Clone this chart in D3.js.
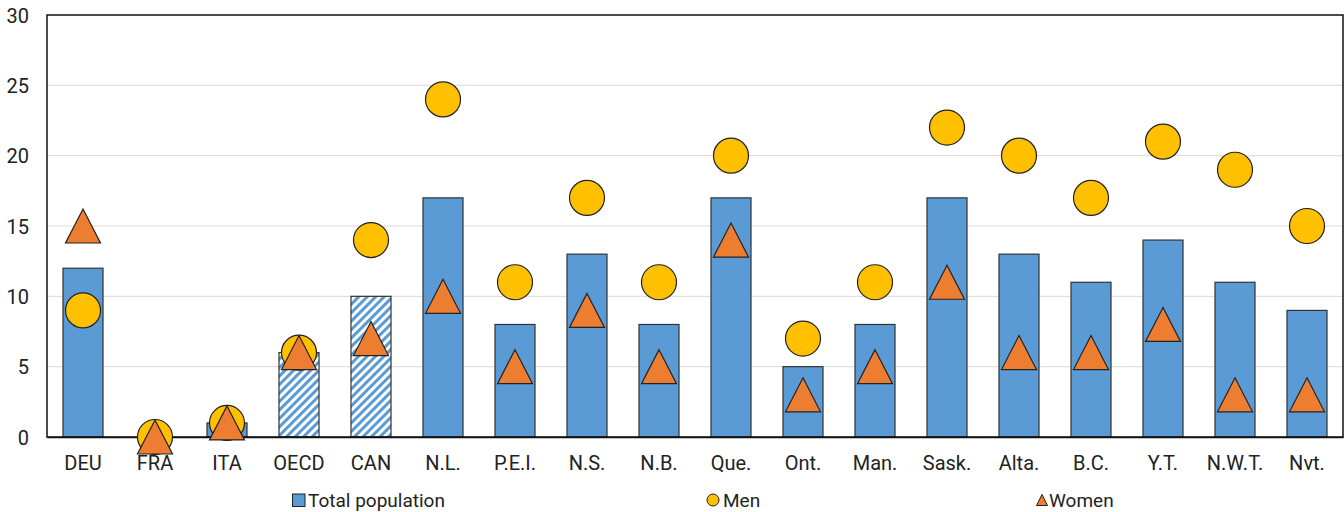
<!DOCTYPE html>
<html><head><meta charset="utf-8">
<script src="https://cdn.jsdelivr.net/npm/d3@7"></script>
<style>body{margin:0;background:#fff}svg text{font-family:Roboto,"Liberation Sans",sans-serif;fill:#222}</style>
</head><body><svg id="c" width="1344" height="512"></svg>
<script>
const categories = ["DEU","FRA","ITA","OECD","CAN","N.L.","P.E.I.","N.S.","N.B.","Que.","Ont.","Man.","Sask.","Alta.","B.C.","Y.T.","N.W.T.","Nvt."];
const total = [12,0,1,6,10,17,8,13,8,17,5,8,17,13,11,14,11,9];
const men = [9,0,1,6,14,24,11,17,11,20,7,11,22,20,17,21,19,15];
const women = [15,0,1,6,7,10,5,9,5,14,3,5,11,6,6,8,3,3];
const hatched = ["OECD","CAN"];
const yTicks = [0,5,10,15,20,25,30];

const svg = d3.select("#c");
const m = {l:47, r:1343, t:15, b:437};
const x = d3.scaleBand().domain(categories).range([m.l, m.r]).paddingInner(0.444).paddingOuter(0.222);
const y = d3.scaleLinear().domain([0,30]).range([m.b, m.t]);

const defs = svg.append("defs");
const pat = defs.append("pattern").attr("id","hatch").attr("patternUnits","userSpaceOnUse")
  .attr("width",6).attr("height",6).attr("patternTransform","rotate(45)");
pat.append("rect").attr("width",6).attr("height",6).attr("fill","#fff");
pat.append("rect").attr("x",0).attr("width",3).attr("height",6).attr("fill","#5b9bd5");

// grid
svg.append("g").selectAll("line").data(yTicks.filter(d=>d>0&&d<30)).join("line")
  .attr("x1",m.l).attr("x2",m.r).attr("y1",d=>y(d)).attr("y2",d=>y(d))
  .attr("stroke","#d9d9d9").attr("stroke-width",1);

// bars
const bw = x.bandwidth();
svg.append("g").selectAll("rect").data(categories).join("rect")
  .attr("x",d=>x(d)).attr("width",bw)
  .attr("y",(d,i)=>y(total[i])).attr("height",(d,i)=>y(0)-y(total[i]))
  .attr("fill",d=>hatched.includes(d)?"url(#hatch)":"#5b9bd5")
  .attr("stroke",(d,i)=>total[i]>0?"#333":"none").attr("stroke-width",1.2);

// frame
svg.append("rect").attr("x",m.l).attr("y",m.t).attr("width",m.r-m.l).attr("height",m.b-m.t)
  .attr("fill","none").attr("stroke","#111").attr("stroke-width",1.5);

// axes
const yAxis = svg.append("g").attr("transform",`translate(${m.l},0)`)
  .call(d3.axisLeft(y).tickValues(yTicks).tickSize(0).tickPadding(18));
yAxis.select(".domain").remove();
yAxis.selectAll("text").attr("font-size",20).attr("dy","0.35em");

const xAxis = svg.append("g").attr("transform",`translate(0,${m.b})`)
  .call(d3.axisBottom(x).tickSize(0).tickPadding(19));
xAxis.select(".domain").attr("stroke","#111").attr("stroke-width",1.5);
xAxis.selectAll("text").attr("font-size",20);

const cx = d => x(d)+bw/2;
// men
svg.append("g").selectAll("circle").data(categories).join("circle")
  .attr("cx",cx).attr("cy",(d,i)=>y(men[i])).attr("r",17.5)
  .attr("fill","#ffc000").attr("stroke","#222").attr("stroke-width",1.2);
// women
const tri = (w,h)=>`M0,${-h/2}L${w/2},${h/2}L${-w/2},${h/2}Z`;
svg.append("g").selectAll("path").data(categories).join("path")
  .attr("transform",(d,i)=>`translate(${cx(d)},${y(women[i])})`)
  .attr("d",tri(35,34))
  .attr("fill","#ed7d31").attr("stroke","#222").attr("stroke-width",1.2);

// legend
const ly = 500;
const lg = svg.append("g");
lg.append("rect").attr("x",292.5).attr("y",ly-6).attr("width",12.5).attr("height",12.5).attr("fill","#5b9bd5").attr("stroke","#222").attr("stroke-width",1);
lg.append("text").attr("x",308).attr("y",ly).attr("dy","0.35em").attr("font-size",19).text("Total population");
lg.append("circle").attr("cx",713).attr("cy",ly).attr("r",6).attr("fill","#ffc000").attr("stroke","#222").attr("stroke-width",1);
lg.append("text").attr("x",723).attr("y",ly).attr("dy","0.35em").attr("font-size",19).text("Men");
lg.append("path").attr("transform",`translate(1042,${ly})`).attr("d",tri(11,11)).attr("fill","#ed7d31").attr("stroke","#222").attr("stroke-width",1);
lg.append("text").attr("x",1049).attr("y",ly).attr("dy","0.35em").attr("font-size",19).text("Women");
</script></body></html>
